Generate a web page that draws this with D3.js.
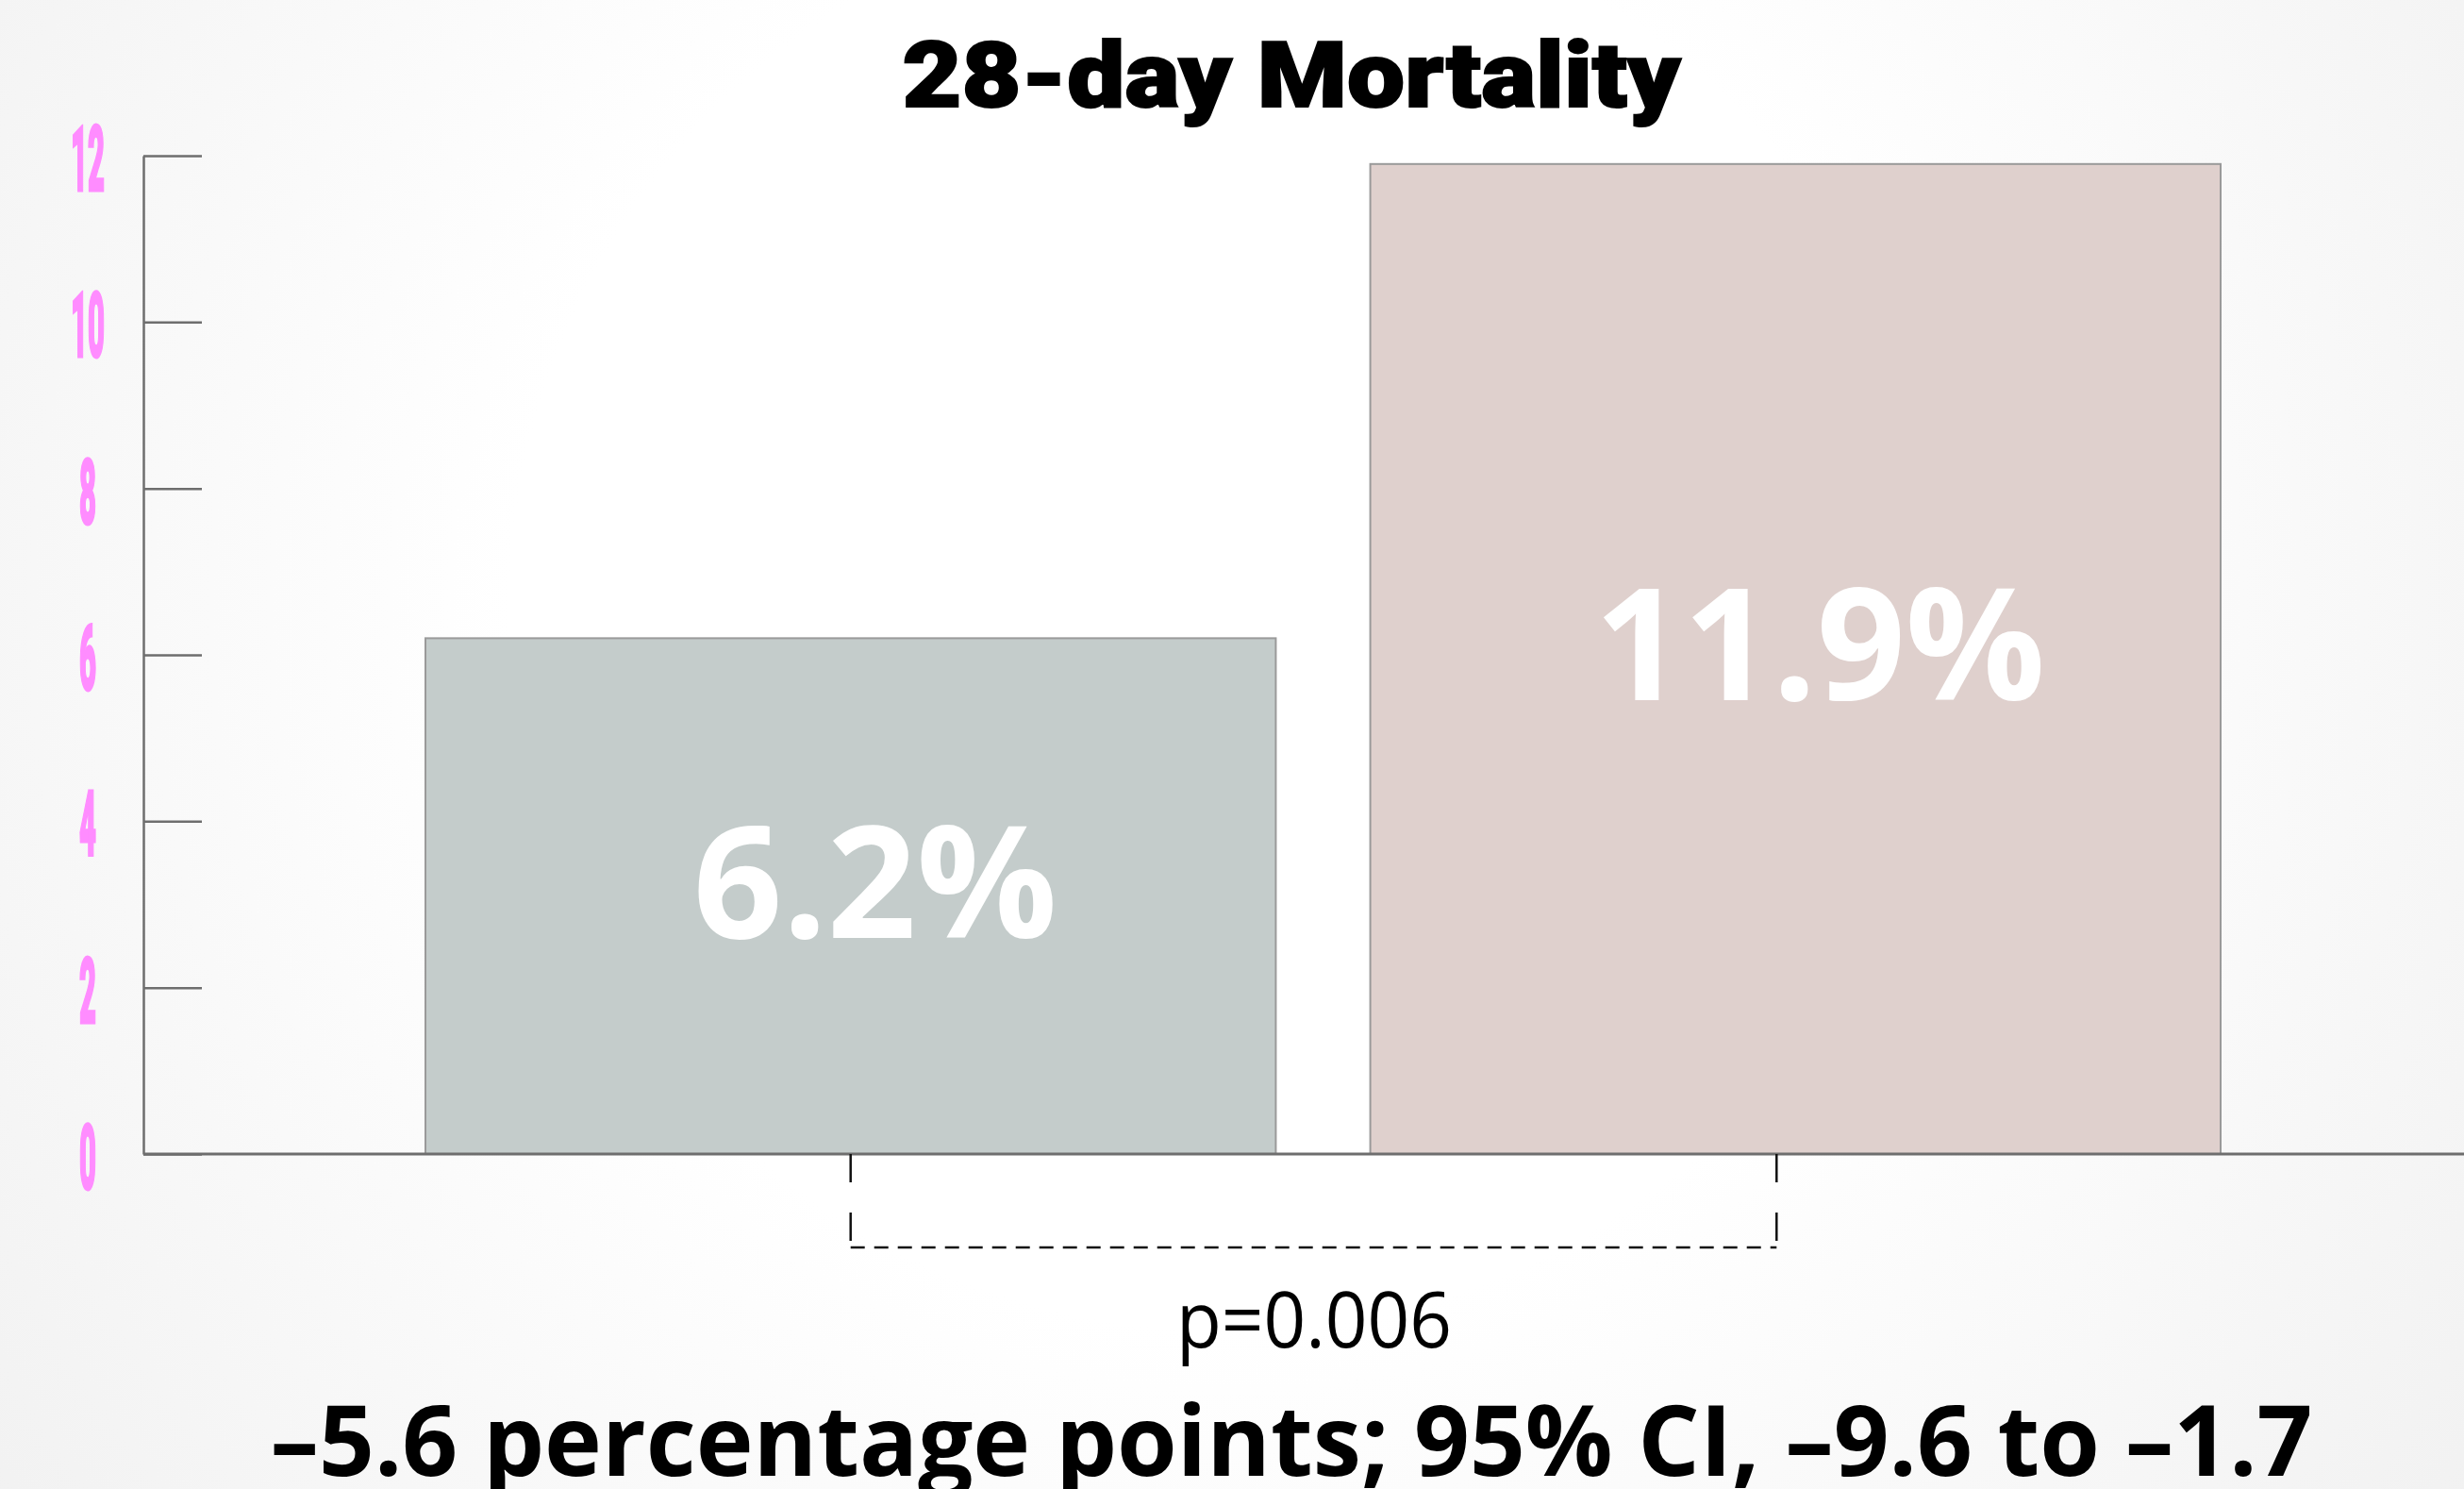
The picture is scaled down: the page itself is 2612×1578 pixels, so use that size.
<!DOCTYPE html>
<html>
<head>
<meta charset="utf-8">
<style>
  html, body { margin: 0; padding: 0; background: #fff; }
  svg { display: block; }
</style>
</head>
<body>
<div id="container"></div>
<script src="https://d3js.org/d3.v7.min.js"></script>
<script>
  // data
  const categories = ["Hydrocortisone", "Placebo"];
  const mortality = [6.2, 11.9];
  const barLabels = ["6.2%", "11.9%"];
  const barColors = ["#c4cccb", "#dfd0cd"];
  const yTicks = [0, 2, 4, 6, 8, 10, 12];
  const titleText = "28-day Mortality";
  const pText = "p=0.006";
  const diffText = "\u20135.6 percentage points; 95% CI, \u20139.6 to \u20131.7";

  const W = 2612, H = 1578;
  const axisX = 152;

  const svg = d3.select("#container")
    .append("svg")
    .attr("width", W)
    .attr("height", H)
    .attr("viewBox", `0 0 ${W} ${H}`);

  // soft grey vignette behind everything
  const defs = svg.append("defs");
  const grad = defs.append("radialGradient")
    .attr("id", "bg")
    .attr("gradientUnits", "userSpaceOnUse")
    .attr("cx", 1300).attr("cy", 650).attr("r", 1900);
  grad.append("stop").attr("offset", "0.4").attr("stop-color", "#ffffff");
  grad.append("stop").attr("offset", "1").attr("stop-color", "#ededed");
  svg.append("rect").attr("width", W).attr("height", H).attr("fill", "url(#bg)");

  const x = d3.scaleBand()
    .domain(categories)
    .range([451, 2354])
    .paddingInner(0.1)
    .paddingOuter(0);

  const y = d3.scaleLinear()
    .domain([0, 12])
    .range([1223, 165]);

  // bars
  svg.append("g")
    .selectAll("rect")
    .data(mortality)
    .join("rect")
    .attr("x", (d, i) => x(categories[i]))
    .attr("y", d => y(d))
    .attr("width", x.bandwidth())
    .attr("height", d => y(0) - y(d))
    .attr("fill", (d, i) => barColors[i])
    .attr("stroke", "#9a9a9a")
    .attr("stroke-width", 2);

  // value labels inside the bars
  const labelW = [386, 478];
  svg.append("g")
    .selectAll("text")
    .data(mortality)
    .join("text")
    .attr("x", (d, i) => x(categories[i]) + x.bandwidth() / 2 + 26)
    .attr("y", d => (y(d) + y(0)) / 2 - 20)
    .attr("text-anchor", "middle")
    .attr("dominant-baseline", "central")
    .attr("font-family", "'Open Sans', 'Noto Sans', sans-serif")
    .attr("font-weight", 700)
    .attr("font-size", 166)
    .attr("fill", "#fff")
    .attr("textLength", (d, i) => labelW[i])
    .attr("lengthAdjust", "spacingAndGlyphs")
    .text((d, i) => barLabels[i]);

  // y axis, ticks pointing into the plot
  const yAxis = svg.append("g")
    .attr("transform", `translate(${axisX},0)`)
    .call(d3.axisLeft(y).tickValues(yTicks).tickSizeInner(-62).tickSizeOuter(0).tickPadding(40));
  yAxis.select(".domain").attr("stroke", "#6e6e6e").attr("stroke-width", 2.5);
  yAxis.selectAll(".tick line").attr("stroke", "#6e6e6e").attr("stroke-width", 2.5);
  yAxis.selectAll(".tick text")
    .attr("x", -59)
    .attr("dy", "0.38em")
    .attr("text-anchor", "middle")
    .attr("fill", "#ff8cff")
    .attr("stroke", "#ff8cff")
    .attr("stroke-width", 3)
    .attr("font-family", "'Roboto', sans-serif")
    .attr("font-weight", 900)
    .attr("font-size", 96)
    .attr("textLength", d => String(d).length * 18)
    .attr("lengthAdjust", "spacingAndGlyphs");

  // x baseline running to the right edge
  svg.append("line")
    .attr("x1", axisX).attr("x2", W)
    .attr("y1", y(0)).attr("y2", y(0))
    .attr("stroke", "#6e6e6e")
    .attr("stroke-width", 3);

  // dashed bracket between the two groups
  const bx1 = x(categories[0]) + x.bandwidth() / 2;
  const bx2 = x(categories[1]) + x.bandwidth() / 2 - 20;
  const by = y(0) + 99;
  const bracket = svg.append("g")
    .attr("stroke", "#111")
    .attr("stroke-width", 2.5)
    .attr("fill", "none");
  [bx1, bx2].forEach(bx => {
    bracket.append("line")
      .attr("x1", bx).attr("x2", bx)
      .attr("y1", y(0)).attr("y2", by)
      .attr("stroke-dasharray", "30,32");
  });
  bracket.append("line")
    .attr("x1", bx1).attr("x2", bx2)
    .attr("y1", by).attr("y2", by)
    .attr("stroke-dasharray", "15,10");

  // title
  svg.append("text")
    .attr("x", 1369).attr("y", 113)
    .attr("text-anchor", "middle")
    .attr("font-family", "'Roboto', sans-serif")
    .attr("font-weight", 900)
    .attr("font-size", 96)
    .attr("fill", "#000")
    .attr("stroke", "#000")
    .attr("stroke-width", 2)
    .attr("textLength", 825)
    .attr("lengthAdjust", "spacingAndGlyphs")
    .text(titleText);

  // p value
  svg.append("text")
    .attr("x", 1393).attr("y", 1428)
    .attr("text-anchor", "middle")
    .attr("font-family", "'Open Sans', 'Noto Sans', sans-serif")
    .attr("font-weight", 400)
    .attr("font-size", 82)
    .attr("fill", "#000")
    .attr("textLength", 292)
    .attr("lengthAdjust", "spacingAndGlyphs")
    .text(pText);

  // difference and CI
  svg.append("text")
    .attr("x", 1369).attr("y", 1564)
    .attr("text-anchor", "middle")
    .attr("font-family", "'Open Sans', 'Noto Sans', sans-serif")
    .attr("font-weight", 700)
    .attr("font-size", 104)
    .attr("fill", "#000")
    .attr("textLength", 2165)
    .attr("lengthAdjust", "spacingAndGlyphs")
    .text(diffText);
</script>
</body>
</html>
